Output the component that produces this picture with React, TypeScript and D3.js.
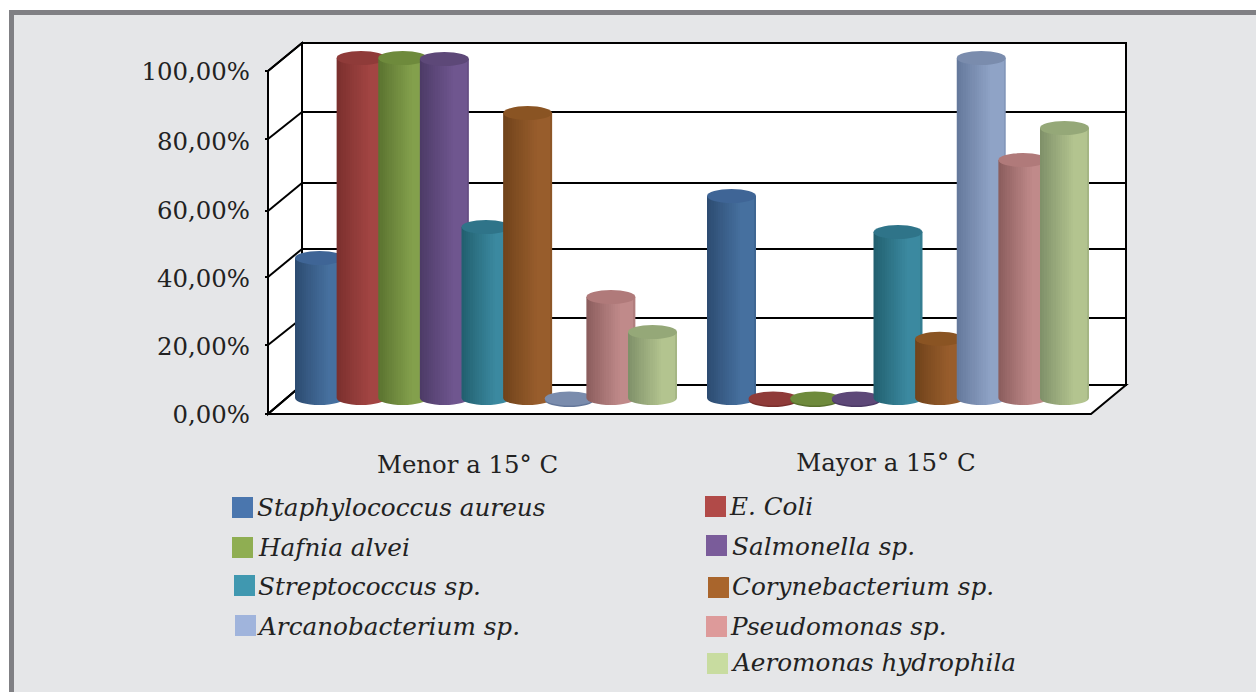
import React from "react";
import * as d3 from "d3";

// ---------- data ----------
const categories = ["Menor a 15° C", "Mayor a 15° C"];
const seriesNames = [
  "Staphylococcus aureus", "E. Coli", "Hafnia alvei", "Salmonella sp.", "Streptococcus sp.",
  "Corynebacterium sp.", "Arcanobacterium sp.", "Pseudomonas sp.", "Aeromonas hydrophila",
];
const menorValues = [41.2, 100, 100, 99.7, 50.3, 83.8, 0, 29.7, 19.4];
const mayorValues = [59.4, 0, 0, 0, 48.8, 17.4, 100, 70, 79.4];
const tickValues = [0, 20, 40, 60, 80, 100];
const tickLabels = ["0,00%", "20,00%", "40,00%", "60,00%", "80,00%", "100,00%"];

// ---------- styles ----------
const legendColors = ["#4a76ae", "#b14a48", "#8fae52", "#7a5c9a", "#4098b0", "#a9652c", "#a0b4dc", "#dd9a9a", "#c8dca0"];
const darkColors = ["#2c4b70", "#7a2f2d", "#5a722f", "#4c3a66", "#215f6e", "#6f421a", "#64779a", "#8a5c5c", "#7e8f68"];
const lightColors = ["#46709f", "#a34543", "#83a04c", "#6f568f", "#3b89a0", "#985d2c", "#8fa3c6", "#c08a8a", "#b3c48f"];
const topColors = ["#3f6596", "#8f3b39", "#6e8a3c", "#5d4878", "#2f7489", "#8a5423", "#7a8cad", "#b07a7a", "#95a878"];
const FONT = "'DejaVu Serif', serif";
const AXIS_SIZE = 24.4;
const LEGEND_SIZE = 24.7;
const TEXT_FILL = "#222222";
const BANDS = 22;

// legend layout: swatch left, swatch top, text left, text baseline
const legendLayout = [
  [232, 497, 257, 516], [705, 496, 730, 515], [232, 537, 259, 556],
  [706, 535, 732, 555], [234, 575, 258, 595], [708, 577, 732, 595],
  [235, 615, 259, 635], [706, 616, 731, 635], [707, 653, 733, 671],
];

// ---------- scales ----------
const W = 1256, H = 692;
const backY = d3.scaleLinear().domain(tickValues).range([385, 318, 249, 183, 112, 43]);
const frontY = d3.scaleLinear().domain(tickValues).range([414, 345, 277, 211, 139, 71]);
const labelY = d3.scaleLinear().domain(tickValues).range([423, 355, 287, 219, 150, 80]);
const topY = d3.scaleLinear().domain([0, 100]).range([398, 58]);
const LEFT = 268, RIGHT = 1091, BACK_L = 302, BACK_R = 1126;
const R = 24.5, RY = 7;
const seriesIdx = d3.range(seriesNames.length);
const slotX = d3.scaleLinear().domain([0, 8]).range([0, 333]);
const groupX = d3.scalePoint<string>().domain(categories).range([319.5, 731.5]);
const catLabelPos = [[467.5, 473], [886, 471]];
// brightness across a cylinder's width
const shade = d3.scaleLinear().domain([0, 0.3, 0.7, 0.93, 1]).range([0, 0.45, 1, 1, 0.6]);

function Cylinder({ s, v, cx }: { s: number; v: number; cx: number }) {
  const y = topY(v);
  const base = topY(0);
  if (v <= 0) {
    return (
      <g>
        <ellipse cx={cx} cy={base + 2} rx={R} ry={RY} fill={darkColors[s]} />
        <ellipse cx={cx} cy={base + 0.5} rx={R} ry={RY} fill={topColors[s]} />
      </g>
    );
  }
  const d = `M${cx - R},${y} L${cx - R},${base} A${R},${RY} 0 0 0 ${cx + R},${base} L${cx + R},${y} Z`;
  return (
    <g>
      <path d={d} fill={`url(#cyl${s})`} />
      <ellipse cx={cx} cy={y} rx={R} ry={RY} fill={topColors[s]} />
    </g>
  );
}

export default function App() {
  return (
    <svg width={W} height={H} style={{ position: "absolute", left: 0, top: 0, display: "block" }} fontFamily={FONT}>
      <defs>
        {seriesIdx.map((s) => {
          const mix = d3.interpolateRgb(darkColors[s], lightColors[s]);
          return (
            <linearGradient key={s} id={`cyl${s}`} x1="0" x2="1" y1="0" y2="0">
              {d3.range(BANDS).flatMap((b) => {
                const c = mix(shade((b + 0.5) / BANDS));
                return [
                  <stop key={`${b}a`} offset={b / BANDS} stopColor={c} />,
                  <stop key={`${b}b`} offset={(b + 1) / BANDS} stopColor={c} />,
                ];
              })}
            </linearGradient>
          );
        })}
      </defs>

      <rect width={W} height={H} fill="#ffffff" />
      <rect x={9} y={10} width={W} height={H} fill="#808084" />
      <rect x={14} y={15} width={W} height={H} fill="#e5e6e8" />

      {/* walls and floor */}
      <g stroke="#000" strokeWidth={2} fill="#fff" strokeLinejoin="miter">
        <polygon points={`${BACK_L},${backY(100)} ${BACK_R},${backY(100)} ${BACK_R},${backY(0)} ${BACK_L},${backY(0)}`} />
        <polygon points={`${LEFT},${frontY(100)} ${BACK_L},${backY(100)} ${BACK_L},${backY(0)} ${LEFT},${frontY(0)}`} />
        <polygon points={`${LEFT},${frontY(0)} ${BACK_L},${backY(0)} ${BACK_R},${backY(0)} ${RIGHT},${frontY(0)}`} />
      </g>
      <g stroke="#000" strokeWidth={2}>
        {tickValues.map((t) => (
          <g key={t}>
            <line x1={BACK_L} x2={BACK_R} y1={backY(t)} y2={backY(t)} />
            <line x1={LEFT} x2={BACK_L} y1={frontY(t)} y2={backY(t)} />
            <line x1={LEFT - 3} x2={LEFT} y1={frontY(t)} y2={frontY(t)} />
          </g>
        ))}
      </g>

      {/* bars */}
      {[menorValues, mayorValues].map((vals, g) => (
        <g key={g}>
          {vals.map((v, s) => (
            <Cylinder key={s} s={s} v={v} cx={groupX(categories[g])! + slotX(s)} />
          ))}
        </g>
      ))}

      {/* tick labels */}
      <g fontSize={AXIS_SIZE} fill={TEXT_FILL} textAnchor="end">
        {tickValues.map((t, i) => (
          <text key={t} x={250} y={labelY(t)}>{tickLabels[i]}</text>
        ))}
      </g>

      {/* category labels */}
      <g fontSize={AXIS_SIZE} fill={TEXT_FILL} textAnchor="middle">
        {categories.map((c, i) => (
          <text key={c} x={catLabelPos[i][0]} y={catLabelPos[i][1]}>{c}</text>
        ))}
      </g>

      {/* legend */}
      <g fontSize={LEGEND_SIZE} fill={TEXT_FILL} fontStyle="italic">
        {seriesNames.map((n, i) => {
          const [sx, sy, tx, ty] = legendLayout[i];
          return (
            <g key={n}>
              <rect x={sx} y={sy} width={21} height={21} fill={legendColors[i]} />
              <text x={tx} y={ty}>{n}</text>
            </g>
          );
        })}
      </g>
    </svg>
  );
}
